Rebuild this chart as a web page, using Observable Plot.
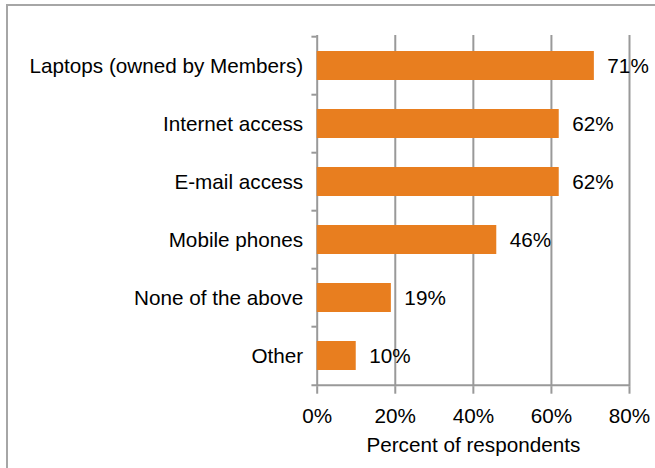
<!DOCTYPE html>
<html><head><meta charset="utf-8">
<script src="https://cdn.jsdelivr.net/npm/d3@7"></script>
<script src="https://cdn.jsdelivr.net/npm/@observablehq/plot@0.6"></script>
<style>
body{margin:0;background:#fff;}
#wrap{position:relative;width:655px;height:468px;overflow:hidden;}
#wrap svg{position:absolute;left:0;top:0;}
#border{position:absolute;left:6px;top:4px;right:-10px;bottom:-10px;border-left:2px solid #a6a6a6;border-top:2px solid #a6a6a6;pointer-events:none;}
</style></head><body><div id="wrap"><div id="border"></div></div>
<script>
const categories = ["Laptops (owned by Members)", "Internet access", "E-mail access", "Mobile phones", "None of the above", "Other"];
const values = [0.71, 0.62, 0.62, 0.46, 0.19, 0.10];
const valueLabels = ["71%", "62%", "62%", "46%", "19%", "10%"];
const xTicks = [0, 0.2, 0.4, 0.6, 0.8];
const gridTicks = [0.2, 0.4, 0.6, 0.8];
const xLabel = "Percent of respondents";

const data = categories.map((c, i) => ({category: c, value: values[i], label: valueLabels[i]}));

const W = 655, H = 468;
const mL = 316.7, mR = 26, mT = 35, mB = 81.3;
const step = (H - mT - mB) / categories.length;
const gray = "#999999";
const orange = "#E87E1F";

const chart = Plot.plot({
  width: W, height: H,
  marginLeft: mL, marginRight: mR, marginTop: mT, marginBottom: mB,
  style: {fontFamily: "'Liberation Sans', Arial, sans-serif", fontSize: "20.7px", color: "#000", overflow: "visible"},
  x: {domain: [0, 0.8]},
  y: {domain: categories, paddingInner: 0.5, paddingOuter: 0.25},
  marks: [
    Plot.ruleX(gridTicks, {stroke: gray, strokeWidth: 2}),
    Plot.ruleX([0], {stroke: gray, strokeWidth: 2}),
    Plot.ruleY(categories, {y: d => d, dy: -step / 2, x1: -0.0135, x2: 0, stroke: gray, strokeWidth: 2}),
    Plot.ruleY(categories.slice(-1), {y: d => d, dy: step / 2, x1: -0.0135, x2: 0.8, stroke: gray, strokeWidth: 2}),
    Plot.barX(data, {y: "category", x: "value", fill: orange}),
    Plot.text(data, {y: "category", x: "value", text: "label", dx: 13, textAnchor: "start", fill: "#000"}),
    Plot.axisX({ticks: xTicks, tickFormat: d3.format(".0%"), tickSize: 7, tickPadding: 14, stroke: gray, strokeWidth: 2,
      label: xLabel, labelAnchor: "center", labelArrow: "none", labelOffset: 65}),
    Plot.axisY({tickSize: 0, tickPadding: 14, label: null})
  ]
});
const wrap = document.getElementById("wrap");
wrap.insertBefore(chart, document.getElementById("border"));
</script>
</body></html>
